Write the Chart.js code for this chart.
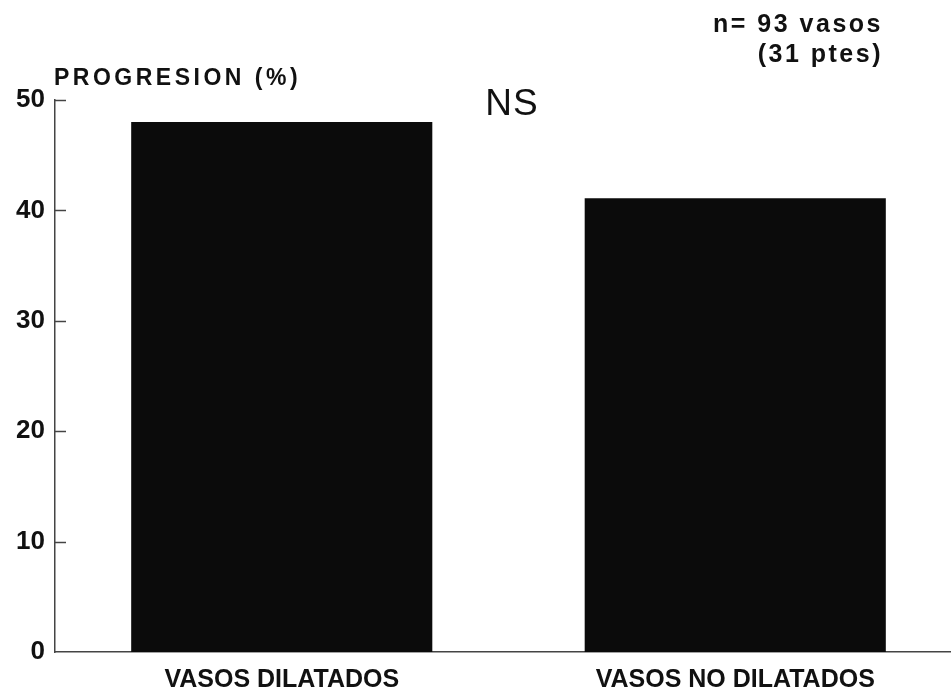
<!DOCTYPE html>
<html>
<head>
<meta charset="utf-8">
<script src="https://cdn.jsdelivr.net/npm/chart.js@4.4.1/dist/chart.umd.min.js"></script>
<style>
    html, body { margin: 0; padding: 0; background: #fff; overflow: hidden; }
    #wrap { width: 951px; height: 695px; overflow: hidden; }
    canvas { display: block; }
</style>
</head>
<body>
<div id="wrap"><canvas id="myChart" width="962" height="695" style="width:962px;height:695px"></canvas></div>
<script>
// data
const categories = ['VASOS DILATADOS', 'VASOS NO DILATADOS'];
const progresion = [48, 41.1];
const yTicks = [0, 10, 20, 30, 40, 50];

const ink = '#111';
const axisColor = '#444';
const fontFamily = '"Liberation Sans", Arial, Helvetica, sans-serif';

// short tick marks pointing into the plot + the free text of the figure
const decoPlugin = {
    id: 'deco',
    afterDraw(chart) {
        const ctx = chart.ctx;
        const y = chart.scales.y;
        const left = chart.chartArea.left;
        ctx.save();
        ctx.strokeStyle = axisColor;
        ctx.lineWidth = 1.5;
        yTicks.forEach(v => {
            if (v === 0) return;
            const py = Math.round(y.getPixelForValue(v)) + 0.5;
            ctx.beginPath();
            ctx.moveTo(left, py);
            ctx.lineTo(left + 11, py);
            ctx.stroke();
        });

        ctx.fillStyle = ink;
        ctx.textBaseline = 'alphabetic';

        // y axis title
        ctx.font = 'bold 23px ' + fontFamily;
        ctx.letterSpacing = '3.5px';
        ctx.textAlign = 'left';
        ctx.fillText('PROGRESION (%)', 54, 85);

        // significance
        ctx.font = '37px ' + fontFamily;
        ctx.letterSpacing = '1px';
        ctx.textAlign = 'center';
        ctx.fillText('NS', 512, 115);

        // sample size
        ctx.font = 'bold 25px ' + fontFamily;
        ctx.letterSpacing = '2.5px';
        ctx.textAlign = 'right';
        ctx.fillText('n= 93 vasos', 883, 32);
        ctx.fillText('(31 ptes)', 883, 62);
        ctx.restore();
    }
};

document.addEventListener('DOMContentLoaded', function() {
    const ctx = document.getElementById('myChart').getContext('2d');

    const config = {
        type: 'bar',
        data: {
            labels: categories,
            datasets: [{
                label: 'PROGRESION (%)',
                data: progresion,
                backgroundColor: '#0b0b0b',
                borderWidth: 0,
                barPercentage: 0.664,
                categoryPercentage: 1
            }]
        },
        options: {
            responsive: false,
            animation: false,
            layout: { padding: { top: 100, left: 0, right: 0, bottom: 0 } },
            plugins: {
                legend: { display: false },
                tooltip: { enabled: false },
                title: { display: false }
            },
            scales: {
                x: {
                    grid: { display: false, drawTicks: false },
                    border: { display: true, color: axisColor, width: 1.5 },
                    ticks: {
                        color: ink,
                        padding: 13,
                        font: { family: fontFamily, size: 25, weight: 'bold' },
                        maxRotation: 0
                    },
                    afterFit: function(scale) { scale.height = 43; }
                },
                y: {
                    min: 0,
                    max: 50,
                    grid: { display: false, drawTicks: false },
                    border: { display: true, color: axisColor, width: 1.5 },
                    ticks: {
                        color: ink,
                        padding: 10,
                        font: { family: fontFamily, size: 26, weight: 'bold' }
                    },
                    afterBuildTicks: function(scale) {
                        scale.ticks = yTicks.map(v => ({ value: v }));
                    },
                    afterFit: function(scale) { scale.width = 55; }
                }
            }
        },
        plugins: [decoPlugin]
    };

    const myChart = new Chart(ctx, config);
});
</script>
</body>
</html>
